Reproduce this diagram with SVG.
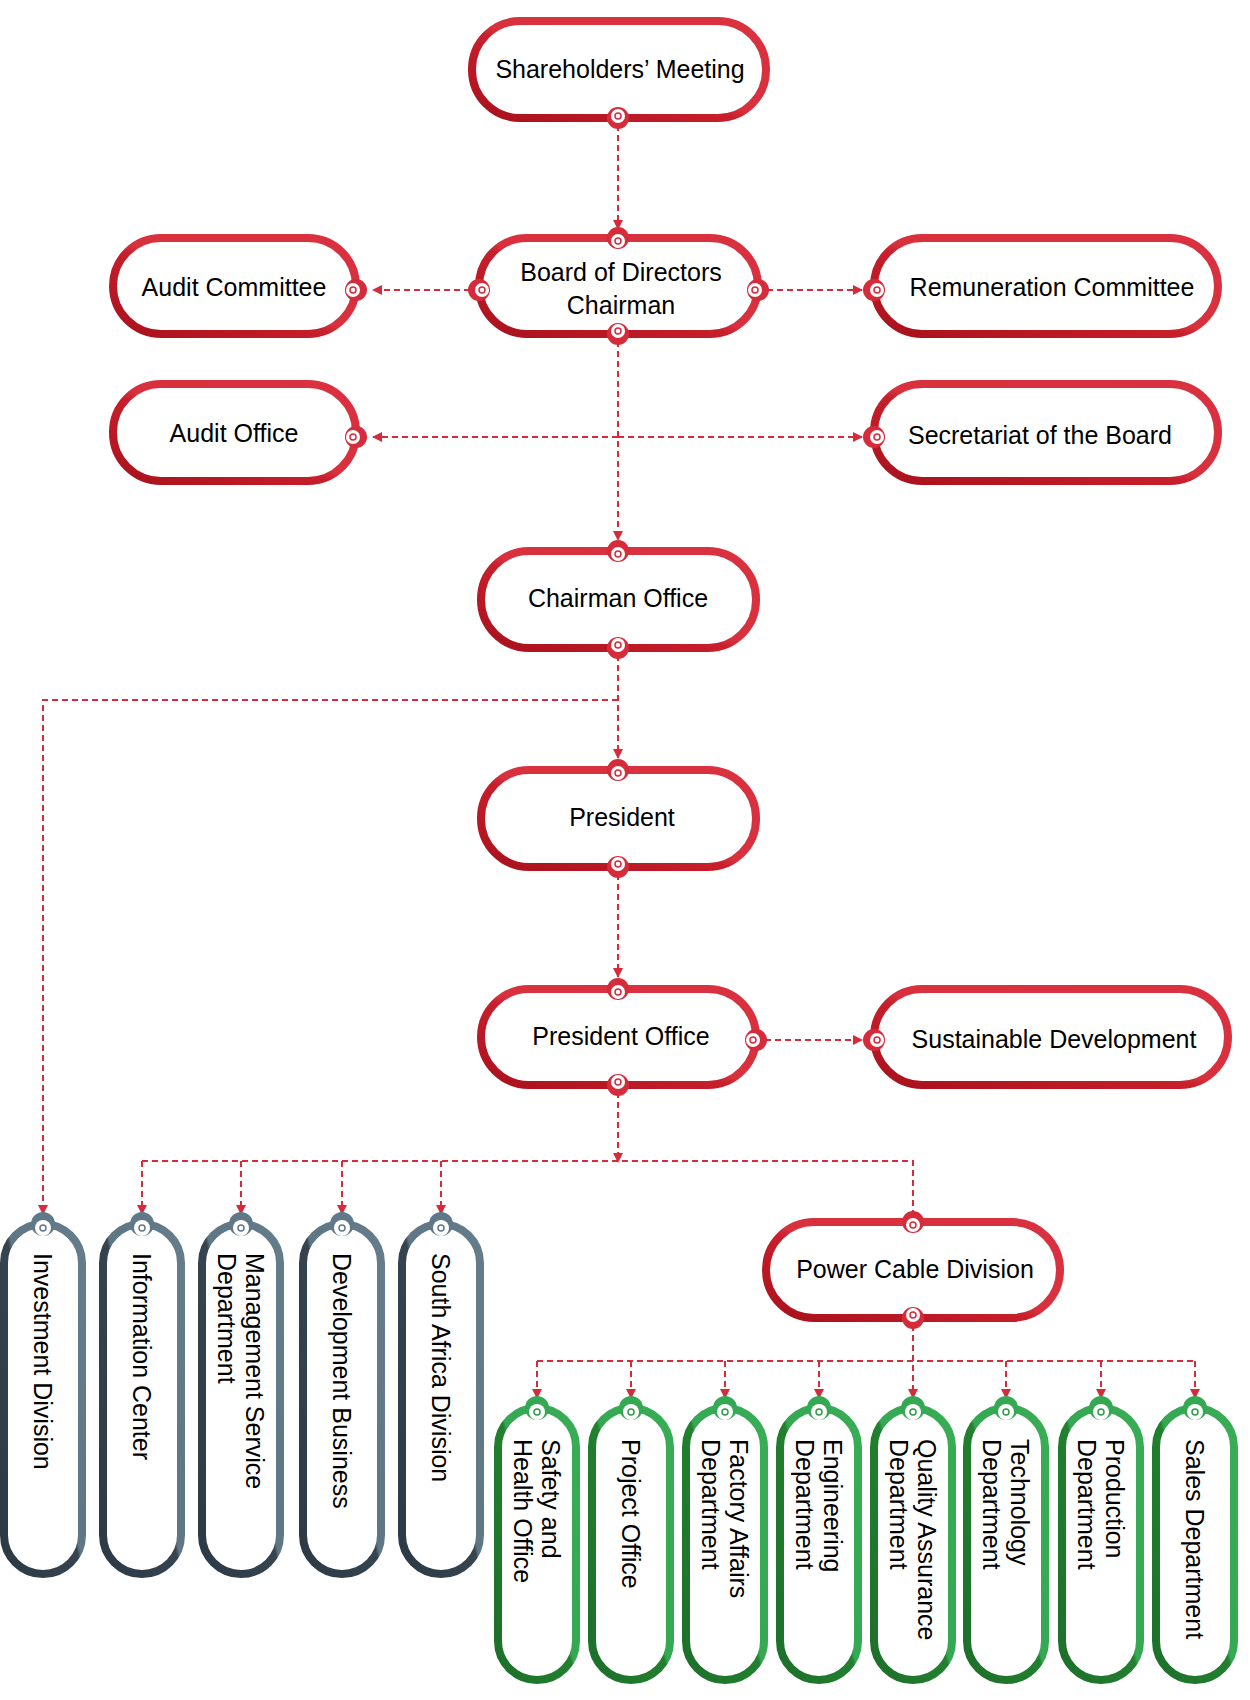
<svg xmlns="http://www.w3.org/2000/svg" width="1250" height="1700" viewBox="0 0 1250 1700">
<defs>
<linearGradient id="gr" x1="0" y1="1" x2="1" y2="0"><stop offset="0" stop-color="#a8111c"/><stop offset="0.45" stop-color="#c81f2c"/><stop offset="0.5" stop-color="#d9303e"/><stop offset="1" stop-color="#da3140"/></linearGradient>
<linearGradient id="gg" x1="0" y1="1" x2="1" y2="0"><stop offset="0" stop-color="#1d6f2a"/><stop offset="0.5" stop-color="#22802f"/><stop offset="0.52" stop-color="#34a853"/><stop offset="1" stop-color="#38ad55"/></linearGradient>
<linearGradient id="gy" x1="0" y1="1" x2="1" y2="0"><stop offset="0" stop-color="#2c3a46"/><stop offset="0.5" stop-color="#36444f"/><stop offset="0.52" stop-color="#5f7684"/><stop offset="1" stop-color="#657d8b"/></linearGradient>
<marker id="ar" viewBox="0 0 10 10" refX="9" refY="5" markerWidth="5" markerHeight="5" markerUnits="strokeWidth" orient="auto"><path d="M0,0 L10,5 L0,10 z" fill="#d62b3a"/></marker>
</defs>
<style>
.r{fill:#fff;stroke:url(#gr);stroke-width:8}
.g{fill:#fff;stroke:url(#gg);stroke-width:8}
.y{fill:#fff;stroke:url(#gy);stroke-width:8}
.pr{fill:#d62b3a}.pg{fill:#34a853}.py{fill:#607989}
.pw{fill:#fff}
.hr{fill:none;stroke:#d62b3a;stroke-width:1.5}
.hg{fill:none;stroke:#2e9a48;stroke-width:1.5}
.hy{fill:none;stroke:#607989;stroke-width:1.5}
text{font-family:"Liberation Sans",Arial,sans-serif;font-size:25px;fill:#000}
.t{text-anchor:middle}
.c{fill:none;stroke:#d62b3a;stroke-width:2;stroke-dasharray:6 4}
</style>
<g id="connectors">
<path class="c" d="M618,125 V229" marker-end="url(#ar)"/>
<path class="c" d="M470,290 H373" marker-end="url(#ar)"/>
<path class="c" d="M767,290 H862" marker-end="url(#ar)"/>
<path class="c" d="M618,341 V540" marker-end="url(#ar)"/>
<path class="c" d="M618,437 H373" marker-end="url(#ar)"/>
<path class="c" d="M618,437 H862" marker-end="url(#ar)"/>
<path class="c" d="M618,655 V758" marker-end="url(#ar)"/>
<path class="c" d="M618,700 H43 V1214" marker-end="url(#ar)"/>
<path class="c" d="M618,874 V977" marker-end="url(#ar)"/>
<path class="c" d="M755,1040 H862" marker-end="url(#ar)"/>
<path class="c" d="M618,1092 V1162" marker-end="url(#ar)"/>
<path class="c" d="M142,1161 H913 V1212"/>
<path class="c" d="M142,1161 V1214" marker-end="url(#ar)"/>
<path class="c" d="M241,1161 V1214" marker-end="url(#ar)"/>
<path class="c" d="M342,1161 V1214" marker-end="url(#ar)"/>
<path class="c" d="M441,1161 V1214" marker-end="url(#ar)"/>
<path class="c" d="M913,1325 V1398" marker-end="url(#ar)"/>
<path class="c" d="M537,1361 H1195"/>
<path class="c" d="M537,1361 V1398" marker-end="url(#ar)"/>
<path class="c" d="M631,1361 V1398" marker-end="url(#ar)"/>
<path class="c" d="M725,1361 V1398" marker-end="url(#ar)"/>
<path class="c" d="M819,1361 V1398" marker-end="url(#ar)"/>
<path class="c" d="M1006,1361 V1398" marker-end="url(#ar)"/>
<path class="c" d="M1101,1361 V1398" marker-end="url(#ar)"/>
<path class="c" d="M1195,1361 V1398" marker-end="url(#ar)"/>
</g>

<g id="shareholders">
<rect class="r" x="472" y="21" width="294" height="97" rx="48"/>
<circle class="pr" cx="618" cy="118" r="11"/><circle class="pw" cx="618" cy="116" r="7"/><circle class="hr" cx="618" cy="116" r="3"/>
<text class="t" x="620" y="78">Shareholders’ Meeting</text>
</g>
<g id="board">
<rect class="r" x="479" y="238" width="279" height="96" rx="48"/>
<circle class="pr" cx="618" cy="238" r="11"/><circle class="pw" cx="618" cy="241" r="7"/><circle class="hr" cx="618" cy="241" r="3"/>
<circle class="pr" cx="618" cy="334" r="11"/><circle class="pw" cx="618" cy="331" r="7"/><circle class="hr" cx="618" cy="331" r="3"/>
<circle class="pr" cx="479" cy="290" r="11"/><circle class="pw" cx="482" cy="290" r="7"/><circle class="hr" cx="482" cy="290" r="3"/>
<circle class="pr" cx="758" cy="290" r="11"/><circle class="pw" cx="755" cy="290" r="7"/><circle class="hr" cx="755" cy="290" r="3"/>
<text class="t" x="621" y="281">Board of Directors</text>
<text class="t" x="621" y="314">Chairman</text>
</g>
<g id="audit-committee">
<rect class="r" x="113" y="238" width="243" height="96" rx="48"/>
<circle class="pr" cx="356" cy="290" r="11"/><circle class="pw" cx="353" cy="290" r="7"/><circle class="hr" cx="353" cy="290" r="3"/>
<text class="t" x="234" y="296">Audit Committee</text>
</g>
<g id="remuneration">
<rect class="r" x="874" y="238" width="344" height="96" rx="48"/>
<circle class="pr" cx="874" cy="290" r="11"/><circle class="pw" cx="877" cy="290" r="7"/><circle class="hr" cx="877" cy="290" r="3"/>
<text class="t" x="1052" y="296">Remuneration Committee</text>
</g>
<g id="audit-office">
<rect class="r" x="113" y="384" width="243" height="97" rx="48"/>
<circle class="pr" cx="356" cy="437" r="11"/><circle class="pw" cx="353" cy="437" r="7"/><circle class="hr" cx="353" cy="437" r="3"/>
<text class="t" x="234" y="442">Audit Office</text>
</g>
<g id="secretariat">
<rect class="r" x="874" y="384" width="344" height="97" rx="48"/>
<circle class="pr" cx="874" cy="437" r="11"/><circle class="pw" cx="877" cy="437" r="7"/><circle class="hr" cx="877" cy="437" r="3"/>
<text class="t" x="1040" y="444">Secretariat of the Board</text>
</g>
<g id="chairman-office">
<rect class="r" x="481" y="551" width="275" height="97" rx="48"/>
<circle class="pr" cx="618" cy="551" r="11"/><circle class="pw" cx="618" cy="554" r="7"/><circle class="hr" cx="618" cy="554" r="3"/>
<circle class="pr" cx="618" cy="648" r="11"/><circle class="pw" cx="618" cy="645" r="7"/><circle class="hr" cx="618" cy="645" r="3"/>
<text class="t" x="618" y="607">Chairman Office</text>
</g>
<g id="president">
<rect class="r" x="481" y="770" width="275" height="97" rx="48"/>
<circle class="pr" cx="618" cy="770" r="11"/><circle class="pw" cx="618" cy="773" r="7"/><circle class="hr" cx="618" cy="773" r="3"/>
<circle class="pr" cx="618" cy="867" r="11"/><circle class="pw" cx="618" cy="864" r="7"/><circle class="hr" cx="618" cy="864" r="3"/>
<text class="t" x="622" y="826">President</text>
</g>
<g id="president-office">
<rect class="r" x="481" y="989" width="275" height="96" rx="48"/>
<circle class="pr" cx="618" cy="989" r="11"/><circle class="pw" cx="618" cy="992" r="7"/><circle class="hr" cx="618" cy="992" r="3"/>
<circle class="pr" cx="618" cy="1085" r="11"/><circle class="pw" cx="618" cy="1082" r="7"/><circle class="hr" cx="618" cy="1082" r="3"/>
<circle class="pr" cx="756" cy="1040" r="11"/><circle class="pw" cx="753" cy="1040" r="7"/><circle class="hr" cx="753" cy="1040" r="3"/>
<text class="t" x="621" y="1045">President Office</text>
</g>
<g id="sustainable">
<rect class="r" x="874" y="989" width="354" height="96" rx="48"/>
<circle class="pr" cx="874" cy="1040" r="11"/><circle class="pw" cx="877" cy="1040" r="7"/><circle class="hr" cx="877" cy="1040" r="3"/>
<text class="t" x="1054" y="1048">Sustainable Development</text>
</g>
<g id="power-cable">
<rect class="r" x="766" y="1222" width="294" height="96" rx="48"/>
<circle class="pr" cx="913" cy="1222" r="11"/><circle class="pw" cx="913" cy="1225" r="7"/><circle class="hr" cx="913" cy="1225" r="3"/>
<circle class="pr" cx="913" cy="1318" r="11"/><circle class="pw" cx="913" cy="1315" r="7"/><circle class="hr" cx="913" cy="1315" r="3"/>
<text class="t" x="915" y="1278">Power Cable Division</text>
</g>

<g id="investment">
<rect class="y" x="4" y="1224" width="78" height="350" rx="39"/>
<circle class="py" cx="43" cy="1224" r="12"/><circle class="pw" cx="43" cy="1228" r="8"/><circle class="hy" cx="43" cy="1228" r="3"/>
<text transform="translate(43,1253) rotate(90)" y="9">Investment Division</text>
</g>
<g id="information">
<rect class="y" x="103" y="1224" width="78" height="350" rx="39"/>
<circle class="py" cx="142" cy="1224" r="12"/><circle class="pw" cx="142" cy="1228" r="8"/><circle class="hy" cx="142" cy="1228" r="3"/>
<text transform="translate(142,1253) rotate(90)" y="9">Information Center</text>
</g>
<g id="management">
<rect class="y" x="202" y="1224" width="78" height="350" rx="39"/>
<circle class="py" cx="241" cy="1224" r="12"/><circle class="pw" cx="241" cy="1228" r="8"/><circle class="hy" cx="241" cy="1228" r="3"/>
<text transform="translate(241,1253) rotate(90)"><tspan x="0" y="-5">Management Service</tspan><tspan x="0" y="23">Department</tspan></text>
</g>
<g id="development">
<rect class="y" x="303" y="1224" width="78" height="350" rx="39"/>
<circle class="py" cx="342" cy="1224" r="12"/><circle class="pw" cx="342" cy="1228" r="8"/><circle class="hy" cx="342" cy="1228" r="3"/>
<text transform="translate(342,1253) rotate(90)" y="9">Development Business</text>
</g>
<g id="south-africa">
<rect class="y" x="402" y="1224" width="78" height="350" rx="39"/>
<circle class="py" cx="441" cy="1224" r="12"/><circle class="pw" cx="441" cy="1228" r="8"/><circle class="hy" cx="441" cy="1228" r="3"/>
<text transform="translate(441,1253) rotate(90)" y="9">South Africa Division</text>
</g>

<g id="safety">
<rect class="g" x="498" y="1408" width="78" height="272" rx="39"/>
<circle class="pg" cx="537" cy="1408" r="12"/><circle class="pw" cx="537" cy="1412" r="8"/><circle class="hg" cx="537" cy="1412" r="3"/>
<text transform="translate(537,1439) rotate(90)"><tspan x="0" y="-5">Safety and</tspan><tspan x="0" y="23">Health Office</tspan></text>
</g>
<g id="project">
<rect class="g" x="592" y="1408" width="78" height="272" rx="39"/>
<circle class="pg" cx="631" cy="1408" r="12"/><circle class="pw" cx="631" cy="1412" r="8"/><circle class="hg" cx="631" cy="1412" r="3"/>
<text transform="translate(631,1439) rotate(90)" y="9">Project Office</text>
</g>
<g id="factory">
<rect class="g" x="686" y="1408" width="78" height="272" rx="39"/>
<circle class="pg" cx="725" cy="1408" r="12"/><circle class="pw" cx="725" cy="1412" r="8"/><circle class="hg" cx="725" cy="1412" r="3"/>
<text transform="translate(725,1439) rotate(90)"><tspan x="0" y="-5">Factory Affairs</tspan><tspan x="0" y="23">Department</tspan></text>
</g>
<g id="engineering">
<rect class="g" x="780" y="1408" width="78" height="272" rx="39"/>
<circle class="pg" cx="819" cy="1408" r="12"/><circle class="pw" cx="819" cy="1412" r="8"/><circle class="hg" cx="819" cy="1412" r="3"/>
<text transform="translate(819,1439) rotate(90)"><tspan x="0" y="-5">Engineering</tspan><tspan x="0" y="23">Department</tspan></text>
</g>
<g id="quality">
<rect class="g" x="874" y="1408" width="78" height="272" rx="39"/>
<circle class="pg" cx="913" cy="1408" r="12"/><circle class="pw" cx="913" cy="1412" r="8"/><circle class="hg" cx="913" cy="1412" r="3"/>
<text transform="translate(913,1439) rotate(90)"><tspan x="0" y="-5">Quality Assurance</tspan><tspan x="0" y="23">Department</tspan></text>
</g>
<g id="technology">
<rect class="g" x="967" y="1408" width="78" height="272" rx="39"/>
<circle class="pg" cx="1006" cy="1408" r="12"/><circle class="pw" cx="1006" cy="1412" r="8"/><circle class="hg" cx="1006" cy="1412" r="3"/>
<text transform="translate(1006,1439) rotate(90)"><tspan x="0" y="-5">Technology</tspan><tspan x="0" y="23">Department</tspan></text>
</g>
<g id="production">
<rect class="g" x="1062" y="1408" width="78" height="272" rx="39"/>
<circle class="pg" cx="1101" cy="1408" r="12"/><circle class="pw" cx="1101" cy="1412" r="8"/><circle class="hg" cx="1101" cy="1412" r="3"/>
<text transform="translate(1101,1439) rotate(90)"><tspan x="0" y="-5">Production</tspan><tspan x="0" y="23">Department</tspan></text>
</g>
<g id="sales">
<rect class="g" x="1156" y="1408" width="78" height="272" rx="39"/>
<circle class="pg" cx="1195" cy="1408" r="12"/><circle class="pw" cx="1195" cy="1412" r="8"/><circle class="hg" cx="1195" cy="1412" r="3"/>
<text transform="translate(1195,1439) rotate(90)" y="9">Sales Department</text>
</g>
</svg>
